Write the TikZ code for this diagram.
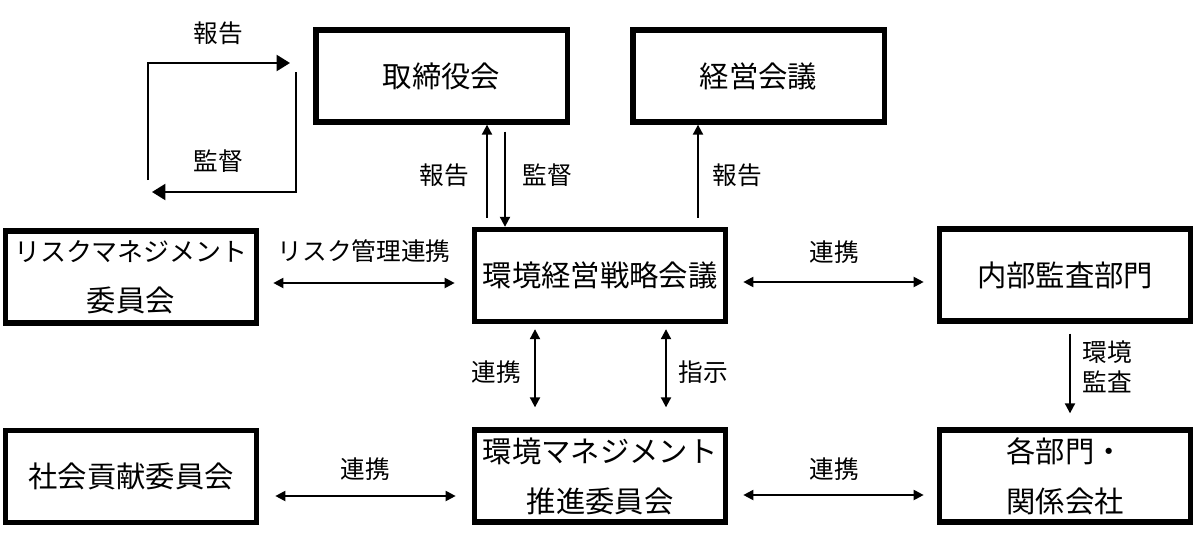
\documentclass[tikz,border=0pt]{standalone}
\usepackage{fontspec}
\setmainfont{Noto Sans CJK JP}
\usetikzlibrary{arrows.meta}
\tikzset{
  boxnode/.style={draw, line width=4pt, minimum width=188.5pt, minimum height=69pt, inner sep=0pt, align=center, font=\fontsize{22}{37.5}\selectfont},
  lbl/.style={inner sep=0pt, align=center, font=\fontsize{18.5}{22.5}\selectfont},
  arr/.style={line width=1.5pt, -{Triangle[length=7.5pt,width=7.5pt]}},
  darr/.style={line width=1.5pt, {Triangle[length=7.5pt,width=7.5pt]}-{Triangle[length=7.5pt,width=7.5pt]}},
  looparr/.style={line width=1.5pt, -{Triangle[length=10pt,width=12pt]}}
}
\begin{document}
\begin{tikzpicture}[x=0.75pt,y=-0.75pt]
\useasboundingbox (0,0) rectangle (1200,539);
% boxes
\node[boxnode] (A) at (441.5,76) {取締役会};
\node[boxnode] (B) at (758.5,76) {経営会議};
\node[boxnode] (D) at (131,277) {{\fontsize{19.5}{37.5}\selectfont リスクマネジメント}\\委員会};
\node[boxnode] (C) at (600,275.5) {環境経営戦略会議};
\node[boxnode] (E) at (1065,275) {内部監査部門};
\node[boxnode] (F) at (131,476.5) {社会貢献委員会};
\node[boxnode] (H) at (600,476) {環境マネジメント\\推進委員会};
\node[boxnode] (G) at (1065,476) {各部門・\\関係会社};
% loop at top left
\coordinate (l1) at (148,180);
\coordinate (l2) at (148,63);
\coordinate (l3) at (290,63);
\coordinate (r1) at (296,72);
\coordinate (r2) at (296,192);
\coordinate (r3) at (152,192);
\draw[looparr] (l1) -- (l2) -- (l3);
\draw[looparr] (r1) -- (r2) -- (r3);
\node[lbl] (t1) at (218,33) {報告};
\node[lbl] (t2) at (218,161) {監督};
% C to A, A to C, C to B
\draw[arr] ([shift={(-113,-9)}]C.north) -- ([shift={(-113,0)}]C.north |- A.south);
\draw[arr] ([shift={(-95,7)}]C.north |- A.south) -- ([shift={(-95,0)}]C.north);
\draw[arr] ([shift={(98,-9)}]C.north) -- ([shift={(98,0)}]C.north |- B.south);
\node[lbl] (t3) at (444,175) {報告};
\node[lbl] (t4) at (547,175) {監督};
\node[lbl] (t5) at (737,175) {報告};
% middle row horizontals
\draw[darr] ([shift={(14,6)}]D.east) -- ([shift={(-17,6)}]D.east -| C.west);
\draw[darr] ([shift={(15,6.5)}]C.east) -- ([shift={(-13,6.5)}]C.east -| E.west);
\node[lbl] (t6) at (364,251) {リスク管理連携};
\node[lbl] (t7) at (834,252) {連携};
% verticals between C and H
\draw[darr] ([shift={(-65,5)}]C.south) -- ([shift={(-65,-20)}]H.north);
\draw[darr] ([shift={(66,5)}]C.south) -- ([shift={(66,-20)}]H.north);
\node[lbl] (t8) at (496,372) {連携};
\node[lbl] (t9) at (703,372) {指示};
% E to G
\draw[arr] ([shift={(5,10)}]E.south) -- ([shift={(5,-14)}]G.north);
\node[lbl] (t10) at (1107,367) {環境\\監査};
% bottom row horizontals
\draw[darr] ([shift={(16,19.5)}]F.east) -- ([shift={(-16,19.5)}]F.east -| H.west);
\draw[darr] ([shift={(15,19)}]H.east) -- ([shift={(-13,19)}]H.east -| G.west);
\node[lbl] (t11) at (365,469) {連携};
\node[lbl] (t12) at (834,469) {連携};
\end{tikzpicture}
\end{document}
